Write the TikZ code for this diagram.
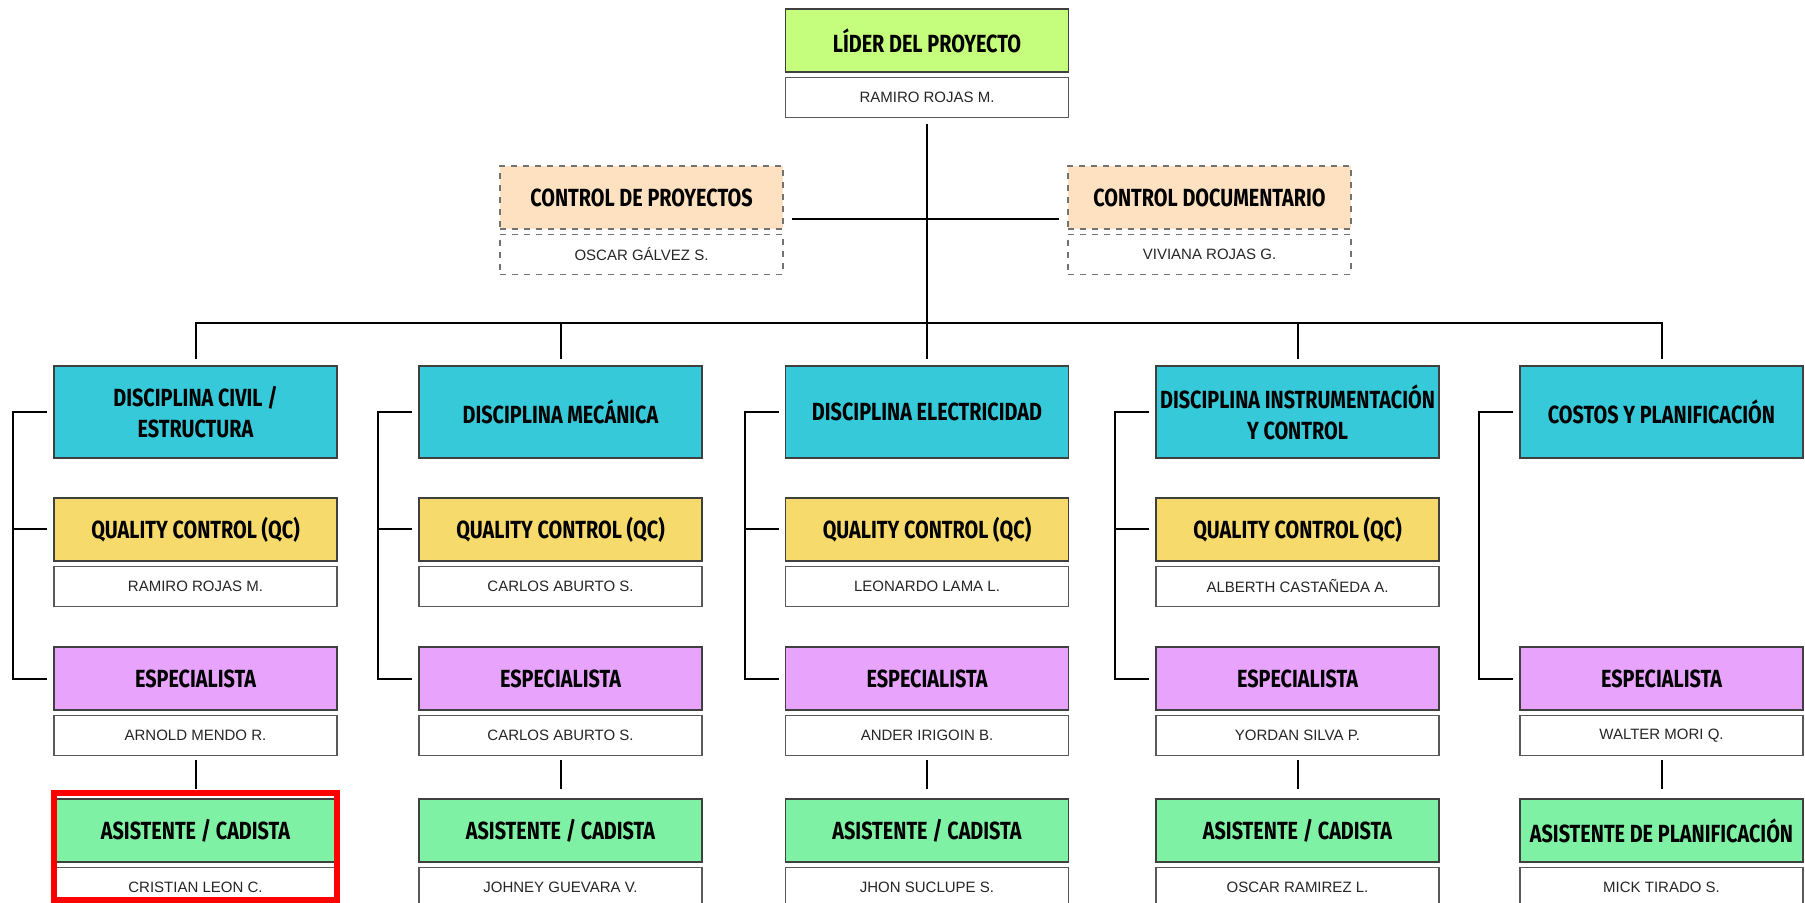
\documentclass[tikz,border=0pt]{standalone}
\usepackage{fontspec}
\setmainfont{Liberation Sans}
\newfontfamily\headfont[FakeStretch=0.8]{Fira Sans}
\usetikzlibrary{positioning}

\definecolor{lidercol}{HTML}{C5FD7C}
\definecolor{ctrlcol}{HTML}{FDE1C1}
\definecolor{disccol}{HTML}{36C9D9}
\definecolor{qccol}{HTML}{F6DA6B}
\definecolor{espcol}{HTML}{E8A3FC}
\definecolor{ascol}{HTML}{7EF1A5}

\begin{document}
\begin{tikzpicture}[x=0.5pt, y=-0.5pt,
    rolebox/.style={rectangle, draw=black!75, line width=0.6pt, minimum width=141.5pt, minimum height=31.5pt, inner sep=1pt, align=center, font=\headfont\bfseries\fontsize{12.4}{15.5}\selectfont},
    personbox/.style={rectangle, draw=black!65, line width=0.6pt, fill=white, minimum width=141.5pt, minimum height=20pt, text=black!85, font=\fontsize{7.5}{9}\selectfont},
    discbox/.style={rolebox, fill=disccol, minimum height=46pt},
    ctrlbox/.style={rolebox, fill=ctrlcol, draw=black!55, dashed},
    ctrlperson/.style={personbox, draw=black!55, dashed},
    link/.style={line width=1pt},
    hilite/.style={draw=red, line width=3pt}]

\path[use as bounding box, fill=white] (0,0) rectangle (1805,903);

\node[rolebox, fill=lidercol] (lider) at (927,40.5) {LÍDER DEL PROYECTO};
\node[personbox, below=2pt of lider] (lidern) {RAMIRO ROJAS M.};

\node[ctrlbox] (cproy) at (641.5,197.5) {CONTROL DE PROYECTOS};
\node[ctrlperson, below=2pt of cproy] (cproyn) {OSCAR GÁLVEZ S.};
\node[ctrlbox] (cdoc) at (1209.5,197.5) {CONTROL DOCUMENTARIO};
\node[ctrlperson, below=2pt of cdoc] (cdocn) {VIVIANA ROJAS G.};

\node[discbox] (civil) at (195.5,412) {DISCIPLINA CIVIL /\\ESTRUCTURA};
\node[discbox] (mec) at (560.5,412) {DISCIPLINA MECÁNICA};
\node[discbox] (elec) at (927,412) {DISCIPLINA ELECTRICIDAD};
\node[discbox] (inst) at (1297.5,412) {DISCIPLINA INSTRUMENTACIÓN\\Y CONTROL};
\node[discbox] (costos) at (1661.5,412) {COSTOS Y PLANIFICACIÓN};

\node[rolebox, fill=qccol] (qc1) at (195.5,529.5) {QUALITY CONTROL (QC)};
\node[personbox, below=2pt of qc1] (qcn1) {RAMIRO ROJAS M.};
\node[rolebox, fill=qccol] (qc2) at (560.5,529.5) {QUALITY CONTROL (QC)};
\node[personbox, below=2pt of qc2] (qcn2) {CARLOS ABURTO S.};
\node[rolebox, fill=qccol] (qc3) at (927,529.5) {QUALITY CONTROL (QC)};
\node[personbox, below=2pt of qc3] (qcn3) {LEONARDO LAMA L.};
\node[rolebox, fill=qccol] (qc4) at (1297.5,529.5) {QUALITY CONTROL (QC)};
\node[personbox, below=2pt of qc4] (qcn4) {ALBERTH CASTAÑEDA A.};

\node[rolebox, fill=espcol] (esp1) at (195.5,678.5) {ESPECIALISTA};
\node[personbox, below=2pt of esp1] (espn1) {ARNOLD MENDO R.};
\node[rolebox, fill=espcol] (esp2) at (560.5,678.5) {ESPECIALISTA};
\node[personbox, below=2pt of esp2] (espn2) {CARLOS ABURTO S.};
\node[rolebox, fill=espcol] (esp3) at (927,678.5) {ESPECIALISTA};
\node[personbox, below=2pt of esp3] (espn3) {ANDER IRIGOIN B.};
\node[rolebox, fill=espcol] (esp4) at (1297.5,678.5) {ESPECIALISTA};
\node[personbox, below=2pt of esp4] (espn4) {YORDAN SILVA P.};
\node[rolebox, fill=espcol] (esp5) at (1661.5,678.5) {ESPECIALISTA};
\node[personbox, below=2pt of esp5] (espn5) {WALTER MORI Q.};

\node[rolebox, fill=ascol] (as1) at (195.5,830.5) {ASISTENTE / CADISTA};
\node[personbox, below=2pt of as1] (asn1) {CRISTIAN LEON C.};
\node[rolebox, fill=ascol] (as2) at (560.5,830.5) {ASISTENTE / CADISTA};
\node[personbox, below=2pt of as2] (asn2) {JOHNEY GUEVARA V.};
\node[rolebox, fill=ascol] (as3) at (927,830.5) {ASISTENTE / CADISTA};
\node[personbox, below=2pt of as3] (asn3) {JHON SUCLUPE S.};
\node[rolebox, fill=ascol] (as4) at (1297.5,830.5) {ASISTENTE / CADISTA};
\node[personbox, below=2pt of as4] (asn4) {OSCAR RAMIREZ L.};
\node[rolebox, fill=ascol] (as5) at (1661.5,830.5) {ASISTENTE DE PLANIFICACIÓN};
\node[personbox, below=2pt of as5] (asn5) {MICK TIRADO S.};

\draw[link] ([yshift=-3pt]lidern.south) -- ([yshift=3pt]elec.north);
\draw[link] ([shift={(4pt,-11pt)}]cproy.east) -- ([shift={(-4pt,-11pt)}]cdoc.west);
\draw[link] ([yshift=3pt]civil.north) -- ++(0,-36) -| ([yshift=3pt]costos.north);
\draw[link] ([yshift=3pt]mec.north) -- ++(0,-36);
\draw[link] ([yshift=3pt]inst.north) -- ++(0,-36);

\draw[link] ([xshift=-3pt]civil.west) -- ++(-34,0) |- ([xshift=-3pt]esp1.west);
\draw[link] ([xshift=-3pt]qc1.west) -- ++(-34,0);
\draw[link] ([xshift=-3pt]mec.west) -- ++(-34,0) |- ([xshift=-3pt]esp2.west);
\draw[link] ([xshift=-3pt]qc2.west) -- ++(-34,0);
\draw[link] ([xshift=-3pt]elec.west) -- ++(-34,0) |- ([xshift=-3pt]esp3.west);
\draw[link] ([xshift=-3pt]qc3.west) -- ++(-34,0);
\draw[link] ([xshift=-3pt]inst.west) -- ++(-34,0) |- ([xshift=-3pt]esp4.west);
\draw[link] ([xshift=-3pt]qc4.west) -- ++(-34,0);
\draw[link] ([xshift=-3pt]costos.west) -- ++(-34,0) |- ([xshift=-3pt]esp5.west);

\draw[link] ([yshift=-2pt]espn1.south) -- ([yshift=4.5pt]as1.north);
\draw[link] ([yshift=-2pt]espn2.south) -- ([yshift=4.5pt]as2.north);
\draw[link] ([yshift=-2pt]espn3.south) -- ([yshift=4.5pt]as3.north);
\draw[link] ([yshift=-2pt]espn4.south) -- ([yshift=4.5pt]as4.north);
\draw[link] ([yshift=-2pt]espn5.south) -- ([yshift=4.5pt]as5.north);

\draw[hilite] ([shift={(0.5pt,2.5pt)}]as1.north west) rectangle ([shift={(-0.5pt,4pt)}]asn1.south east);
\end{tikzpicture}
\end{document}
